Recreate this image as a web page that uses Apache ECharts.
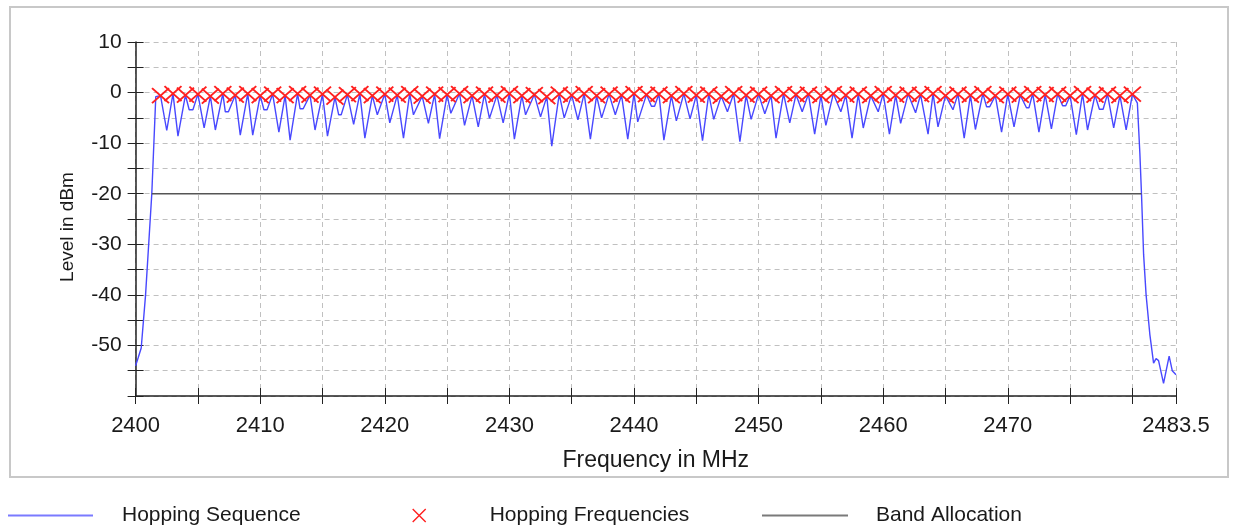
<!DOCTYPE html>
<html><head><meta charset="utf-8">
<script src="https://cdn.jsdelivr.net/npm/echarts/dist/echarts.min.js"></script>
<style>html,body{margin:0;padding:0;background:#fff}#c{width:1238px;height:529px}</style>
</head><body><div id="c"></div>
<script>
// ---- data ----
const xLabelValues = [2400, 2410, 2420, 2430, 2440, 2450, 2460, 2470, 2483.5];
const yLabelValues = [10, 0, -10, -20, -30, -40, -50];

// hopping channel frequencies (MHz) and their levels (dBm)
const hopFreqs = [
  2402,2403,2404,2405,2406,2407,2408,2409,2410,2411,
  2412,2413,2414,2415,2416,2417,2418,2419,2420,2421,
  2422,2423,2424,2425,2426,2427,2428,2429,2430,2431,
  2432,2433,2434,2435,2436,2437,2438,2439,2440,2441,
  2442,2443,2444,2445,2446,2447,2448,2449,2450,2451,
  2452,2453,2454,2455,2456,2457,2458,2459,2460,2461,
  2462,2463,2464,2465,2466,2467,2468,2469,2470,2471,
  2472,2473,2474,2475,2476,2477,2478,2479,2480
];
const hopLevels = [
  -0.6,-0.2,-0.5,-0.3,-0.7,-0.2,-0.5,-0.2,-0.6,-0.3,
  -0.6,-0.2,-0.5,-0.3,-0.9,-0.4,-0.2,-0.6,-0.3,-0.5,
  -0.2,-0.7,-0.3,-0.4,-0.2,-0.6,-0.3,-0.5,-0.2,-0.6,
  -0.4,-0.8,-0.3,-0.5,-0.2,-0.6,-0.3,-0.5,-0.2,-0.4,
  -0.3,-0.6,-0.2,-0.5,-0.3,-0.7,-0.2,-0.5,-0.3,-0.6,
  -0.2,-0.4,-0.3,-0.6,-0.2,-0.5,-0.3,-0.6,-0.2,-0.5,
  -0.3,-0.4,-0.2,-0.6,-0.3,-0.5,-0.2,-0.6,-0.3,-0.5,
  -0.2,-0.4,-0.3,-0.6,-0.2,-0.5,-0.3,-0.6,-0.3
];

// trace minima between channels
const dipFreqs = [
  2402.5,2403.4,2404.3,2404.6,2405.5,2406.4,2407.2,2407.45,2408.4,2409.4,
  2410.3,2410.55,2411.5,2412.4,2413.2,2413.45,2414.4,2415.4,2416.3,2416.5,
  2417.5,2418.4,2419.4,2420.4,2421.5,2422.3,2423.5,2424.4,2425.3,2426.4,
  2427.5,2428.4,2429.5,2430.4,2431.3,2432.5,2433.4,2434.4,2435.5,2436.5,
  2437.4,2438.5,2439.5,2440.3,2441.4,2441.65,2442.4,2443.4,2444.5,2445.5,
  2446.4,2447.5,2448.5,2449.4,2450.5,2451.4,2452.5,2453.5,2454.5,2455.4,
  2456.6,2457.5,2458.4,2459.6,2460.5,2461.4,2462.6,2463.6,2464.4,2465.6,
  2466.5,2467.4,2468.3,2468.55,2469.5,2470.5,2471.5,2471.7,2472.5,2473.5,
  2474.4,2474.65,2475.5,2476.4,2477.35,2477.65,2478.5,2479.5
];
const dipLevels = [
  -7.5,-8.6,-3.4,-3.4,-7.0,-7.4,-3.8,-3.8,-8.4,-8.4,
  -3.4,-3.4,-7.8,-9.4,-3.2,-3.2,-7.4,-8.6,-4.4,-4.4,
  -6.3,-9.0,-4.4,-6.0,-9.0,-4.4,-6.1,-9.1,-4.1,-6.5,
  -6.8,-5.1,-6.0,-9.2,-4.4,-4.8,-10.6,-5.0,-5.4,-9.2,
  -5.0,-4.4,-9.2,-5.8,-2.7,-2.7,-9.4,-5.6,-5.2,-9.5,
  -5.3,-3.8,-9.7,-5.3,-4.2,-9.0,-6.0,-3.8,-8.2,-6.5,
  -3.8,-9.0,-7.0,-3.8,-8.2,-6.1,-4.0,-8.2,-6.8,-3.4,
  -9.0,-7.3,-2.8,-2.8,-7.8,-6.8,-3.0,-3.0,-7.8,-7.2,
  -2.6,-2.6,-8.3,-7.4,-3.3,-3.3,-7.0,-7.4
];

// band edges of the trace
const riseFreqs = [2400.0, 2400.2, 2400.45, 2400.8, 2401.1, 2401.3, 2401.62];
const riseLevels = [-54.0, -52.5, -50.5, -40.0, -28.0, -20.0, -0.8];
const fallFreqs = [2480.4, 2480.6, 2480.73, 2480.9, 2481.1, 2481.4, 2481.7, 2481.9, 2482.1, 2482.5, 2482.95, 2483.2, 2483.5];
const fallLevels = [-2.1, -12.0, -20.0, -32.0, -40.0, -47.8, -53.5, -52.6, -53.0, -57.5, -52.1, -55.0, -55.8];

// band allocation line
const bandFreqs = [2401.3, 2480.73];
const bandLevels = [-20, -20];

// ---- build series data ----
const zip = (a, b) => a.map((v, i) => [v, b[i]]);
const traceData = zip(riseFreqs, riseLevels)
  .concat(zip(hopFreqs, hopLevels))
  .concat(zip(dipFreqs, dipLevels))
  .concat(zip(fallFreqs, fallLevels))
  .sort((p, q) => p[0] - q[0]);
const hopData = zip(hopFreqs, hopLevels);
const bandData = zip(bandFreqs, bandLevels);

const FONT = 'Liberation Sans, Arial, sans-serif';
const TXT = '#1a1a1a';
const crossPath = 'path://M0,0L10,10M10,0L0,10';

const chart = echarts.init(document.getElementById('c'), null, {renderer: 'canvas'});
const axisCommonX = {type: 'value', min: 2400, max: 2483.5, interval: 5, position: 'bottom'};
const axisCommonY = {type: 'value', min: -60, max: 10, interval: 5, position: 'left'};

chart.setOption({
  animation: false,
  backgroundColor: '#fff',
  textStyle: {fontFamily: FONT},
  graphic: [{
    type: 'rect', z: -10, silent: true,
    shape: {x: 10, y: 7, width: 1218, height: 470},
    style: {fill: '#fff', stroke: '#c8c8c8', lineWidth: 2}
  }],
  grid: {left: 135.6, right: 62, top: 42, bottom: 133, containLabel: false},
  xAxis: [
    Object.assign({}, axisCommonX, {
      name: 'Frequency in MHz', nameLocation: 'middle', nameGap: 53,
      nameTextStyle: {fontSize: 23, color: TXT, fontFamily: FONT},
      axisLine: {show: true, onZero: false, lineStyle: {color: '#222', width: 1.5}},
      axisTick: {show: true, inside: false, length: 8, lineStyle: {color: '#222', width: 1}},
      axisLabel: {show: true, margin: 19, fontSize: 22, color: TXT, fontFamily: FONT,
        showMaxLabel: true, showMinLabel: true,
        formatter: v => (xLabelValues.indexOf(v) >= 0 ? String(v) : '')},
      splitLine: {show: true, lineStyle: {color: '#c0c0c0', width: 1, type: [5, 4]}}
    }),
    Object.assign({}, axisCommonX, {
      axisLine: {show: false, onZero: false},
      axisTick: {show: true, inside: true, length: 8, lineStyle: {color: '#222', width: 1}},
      axisLabel: {show: false}, splitLine: {show: false}
    })
  ],
  yAxis: [
    Object.assign({}, axisCommonY, {
      name: 'Level in dBm', nameLocation: 'middle', nameGap: 58, nameRotate: 90,
      nameTextStyle: {fontSize: 19, color: TXT, fontFamily: FONT, padding: [0, 16, 0, 0]},
      axisLine: {show: true, onZero: false, lineStyle: {color: '#222', width: 1.5}},
      axisTick: {show: true, inside: false, length: 8, lineStyle: {color: '#222', width: 1}},
      axisLabel: {show: true, margin: 14, fontSize: 21, color: TXT, fontFamily: FONT,
        formatter: v => (yLabelValues.indexOf(v) >= 0 ? String(v) : '')},
      splitLine: {show: true, lineStyle: {color: '#c0c0c0', width: 1, type: [5, 4]}}
    }),
    Object.assign({}, axisCommonY, {
      axisLine: {show: false, onZero: false},
      axisTick: {show: true, inside: true, length: 8, lineStyle: {color: '#222', width: 1}},
      axisLabel: {show: false}, splitLine: {show: false}
    })
  ],
  legend: [
    {left: 8, top: 505, padding: 0, itemWidth: 85, itemHeight: 2, icon: 'rect',
     data: ['Hopping Sequence'],
     textStyle: {fontSize: 21, color: TXT, fontFamily: FONT, padding: [0, 0, 0, 24]}},
    {left: 412, top: 505, padding: 0, itemWidth: 13, itemHeight: 14, icon: crossPath,
     data: ['Hopping Frequencies'],
     itemStyle: {color: 'transparent', borderColor: '#ff2020', borderWidth: 1.4},
     textStyle: {fontSize: 21, color: TXT, fontFamily: FONT, padding: [0, 0, 0, 59]}},
    {left: 762, top: 505, padding: 0, itemWidth: 86, itemHeight: 2, icon: 'rect',
     data: ['Band Allocation'],
     textStyle: {fontSize: 21, color: TXT, fontFamily: FONT, padding: [0, 0, 0, 23]}}
  ],
  series: [
    {name: 'Hopping Sequence', type: 'line', xAxisIndex: 0, yAxisIndex: 0,
     data: traceData, showSymbol: false, symbol: 'none',
     itemStyle: {color: '#7a7aff'},
     lineStyle: {color: '#4848ff', width: 1.4}, z: 2},
    {name: 'Band Allocation', type: 'line', xAxisIndex: 0, yAxisIndex: 0,
     data: bandData, showSymbol: false, symbol: 'none',
     itemStyle: {color: '#7a7a7a'},
     lineStyle: {color: '#555', width: 1.5}, z: 3},
    {name: 'Hopping Frequencies', type: 'scatter', xAxisIndex: 0, yAxisIndex: 0,
     data: hopData, symbol: crossPath, symbolSize: [17, 15],
     itemStyle: {color: 'transparent', borderColor: '#ff2020', borderWidth: 1.8, opacity: 1}, z: 4}
  ]
});
</script></body></html>
